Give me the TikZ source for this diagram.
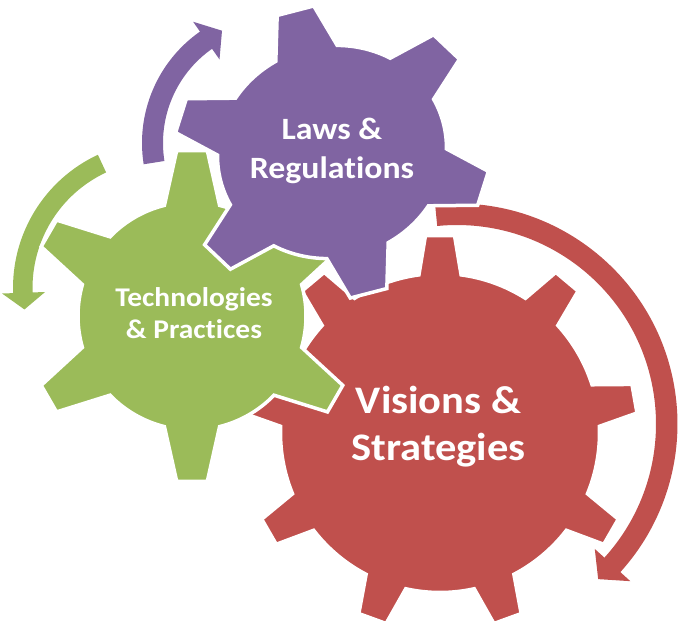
\documentclass[tikz,border=0pt]{standalone}
\usepackage{fontspec}
\setmainfont{Carlito}[Ligatures=NoCommon]
\usepackage{tikz}

\definecolor{lawpurple}{HTML}{8064A2}
\definecolor{techgreen}{HTML}{9BBB59}
\definecolor{visionred}{HTML}{C0504D}
\tikzset{
  gearbody/.style={draw=white, line width=3.5pt, line join=miter},
  gearlabel/.style={text=white, align=center, inner sep=0pt, transform shape, xscale=1.09},
  every picture/.style={x=1pt, y=1pt}
}

% gear: [scope options]{colour}{teeth}{first tooth angle}{body r}{tip r}{half angle at base}{half angle at tip}
\newcommand{\cogwheel}[8][]{%
  \begin{scope}[#1]
    \filldraw[gearbody, fill=#2] ({#4-#7}:#5)
      \foreach \k [evaluate=\k as \ang using #4+(\k-1)*360/#3] in {1,...,#3} {
        -- ({\ang-#7}:#5) -- ({\ang-#8}:#6) -- ({\ang+#8}:#6) -- ({\ang+#7}:#5)
        arc[start angle={\ang+#7}, end angle={\ang+360/#3-#7}, radius=#5]
      } -- cycle;
  \end{scope}}

% bent arrow: {centre}{colour}{tail angle}{head angle}{tip angle}{inner r}{outer r}{inner barb r}{outer barb r}
\newcommand{\bentarrow}[9]{%
  \fill[#2, shift={#1}] (#3:#7) arc[start angle=#3, end angle=#4, radius=#7]
    -- (#4:#9) -- ({#5}:{(#6+#7)/2}) -- (#4:#8) -- (#4:#6)
    arc[start angle=#4, end angle=#3, radius=#6] -- cycle;}

\begin{document}
\begin{tikzpicture}
  \useasboundingbox (0,0) rectangle (683,621);

  % turning arrows
  \bentarrow{(278,478)}{lawpurple}{189}{125}{116.5}{115}{136}{102}{148}
  \bentarrow{(160,333)}{techgreen}{115}{182}{189}{127.5}{147}{115}{158}
  \bentarrow{(457,197)}{visionred}{95.7}{-42.2}{-47.7}{199}{220.5}{186}{234}

  % gears, back to front
  \cogwheel[shift={(440,188)}]{visionred}{9}{90}{159.5}{198}{7.6}{4.2}
  \cogwheel[shift={(192,305)}]{techgreen}{6}{90}{114}{166}{14}{5.3}
  \cogwheel[shift={(332,469)}, rotate=14.5, xscale=1.085, rotate=-14.5]{lawpurple}{6}{104.5}{106}{147}{16}{6.8}

  \node[gearlabel, font=\bfseries\fontsize{39}{47}\selectfont] (vision) at (438.5,194) {Visions \&\\Strategies};
  \node[gearlabel, font=\bfseries\fontsize{31}{39}\selectfont] (laws) at (332,470.5) {Laws \&\\Regulations};
  \node[gearlabel, font=\bfseries\fontsize{27}{32}\selectfont] (tech) at (194,307.5) {Technologies\\\& Practices};
\end{tikzpicture}
\end{document}
